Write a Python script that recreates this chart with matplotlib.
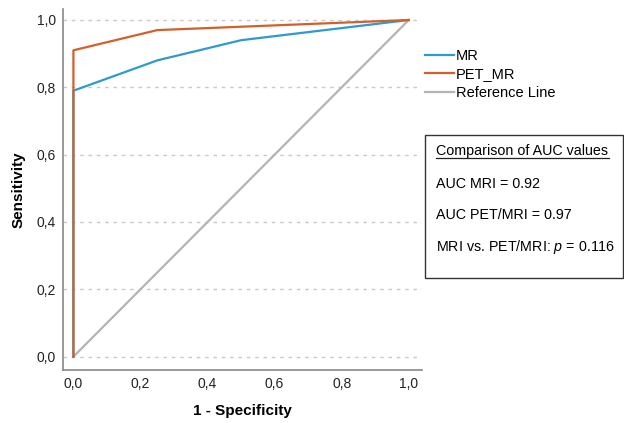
import matplotlib.pyplot as plt
from matplotlib.ticker import FuncFormatter

# ROC points
fpr_mr = [0.0, 0.0, 0.25, 0.5, 1.0]
tpr_mr = [0.0, 0.79, 0.88, 0.94, 1.0]
fpr_pet = [0.0, 0.0, 0.25, 1.0]
tpr_pet = [0.0, 0.91, 0.97, 1.0]
ref_x = [0.0, 1.0]
ref_y = [0.0, 1.0]
ticks = [0.0, 0.2, 0.4, 0.6, 0.8, 1.0]

auc_mri = 0.92
auc_pet = 0.97
p_value = 0.116

plt.rcParams['font.family'] = ['Liberation Sans', 'DejaVu Sans']
plt.rcParams['mathtext.fontset'] = 'custom'
plt.rcParams['mathtext.rm'] = 'Liberation Sans'
plt.rcParams['mathtext.it'] = 'Liberation Sans:italic'

fig = plt.figure(figsize=(6.24, 4.23), dpi=100)
ax = fig.add_axes([0.101, 0.125, 0.575, 0.854])

for t in ticks:
    ax.axhline(t, color='#c8c8c8', linestyle=(0, (2.5, 3.5)), linewidth=1.0, zorder=0)

ax.plot(ref_x, ref_y, color='#b4b4b4', linewidth=1.6, label='Reference Line')
ax.plot(fpr_mr, tpr_mr, color='#2f9ad0', linewidth=1.6, label='MR')
ax.plot(fpr_pet, tpr_pet, color='#d2602a', linewidth=1.6, label='PET_MR')

ax.set_xlim(-0.031, 1.039)
ax.set_ylim(-0.04, 1.033)
ax.set_xticks(ticks)
ax.set_yticks(ticks)
fmt = FuncFormatter(lambda v, pos: f'{v:.1f}'.replace('.', ','))
ax.xaxis.set_major_formatter(fmt)
ax.yaxis.set_major_formatter(fmt)
ax.tick_params(length=0, labelsize=10, colors='#222222', pad=5)

for s in ['top', 'right']:
    ax.spines[s].set_visible(False)
for s in ['left', 'bottom']:
    ax.spines[s].set_color('#888888')
    ax.spines[s].set_linewidth(1.2)

ax.set_xlabel('1 - Specificity', fontsize=11, fontweight='bold',
              family=['Liberation Sans Narrow', 'Liberation Sans'], labelpad=9)
ax.set_ylabel('Sensitivity', fontsize=11, fontweight='bold',
              family=['Liberation Sans Narrow', 'Liberation Sans'], labelpad=8)

handles, labels = ax.get_legend_handles_labels()
order = [1, 2, 0]
fig.legend([handles[i] for i in order], [labels[i] for i in order],
           loc='upper left', bbox_to_anchor=(0.672, 0.898), frameon=False,
           fontsize=10.5, handlelength=2.0, handletextpad=0.1, labelspacing=0.3,
           borderaxespad=0)

# comparison box
box = plt.Rectangle((0.681, 0.343), 0.317, 0.338, transform=fig.transFigure,
                    fill=False, edgecolor='#333333', linewidth=1.0)
fig.add_artist(box)
tx = 0.699
fig.text(tx, 0.643, 'Comparison of AUC values', fontsize=10.3, va='center')
fig.add_artist(plt.Line2D([tx, tx + 0.277], [0.626, 0.626], transform=fig.transFigure,
                          color='#222222', linewidth=0.9))
fig.text(tx, 0.566, f'AUC MRI = {auc_mri:.2f}', fontsize=10.3, va='center')
fig.text(tx, 0.492, f'AUC PET/MRI = {auc_pet:.2f}', fontsize=10.3, va='center')
fig.text(tx, 0.417, f'MRI vs. PET/MRI: $p$ = {p_value:.3f}', fontsize=10.3, va='center')

fig.savefig('out.png', dpi=100)
